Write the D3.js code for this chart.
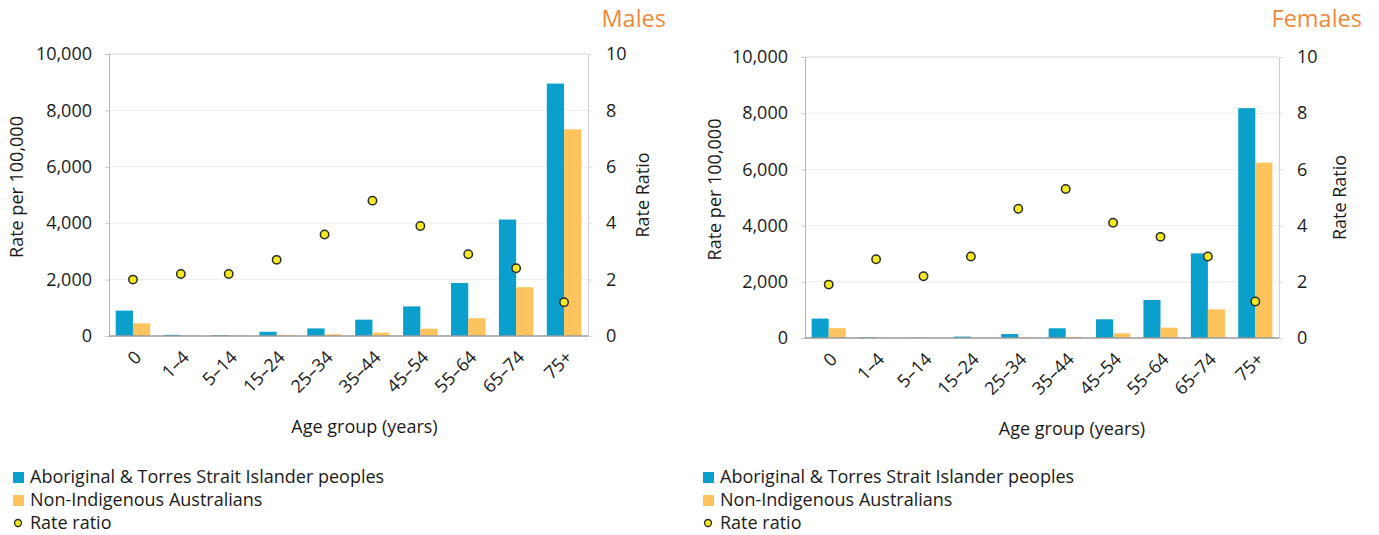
<!DOCTYPE html>
<html>
<head>
<meta charset="utf-8">
<script src="https://cdn.jsdelivr.net/npm/d3@7"></script>
<style>
  body { margin: 0; background: #fff; }
  svg text { font-family: "Open Sans", sans-serif; fill: #1a1a1a; }
</style>
</head>
<body>
<div id="chart"></div>
<script>
// Age groups along the x axis
var ageGroups = ["0", "1–4", "5–14", "15–24", "25–34", "35–44", "45–54", "55–64", "65–74", "75+"];

// Males: rate per 100,000 and rate ratio
var malesIndigenous    = [900, 40, 25, 150, 270, 580, 1050, 1880, 4130, 8950];
var malesNonIndigenous = [450, 15, 10, 40, 60, 120, 260, 630, 1730, 7330];
var malesRatio         = [2.0, 2.2, 2.2, 2.7, 3.6, 4.8, 3.9, 2.9, 2.4, 1.2];

// Females: rate per 100,000 and rate ratio
var femalesIndigenous    = [690, 25, 10, 50, 140, 345, 665, 1355, 3010, 8180];
var femalesNonIndigenous = [350, 10, 5, 10, 25, 40, 170, 370, 1020, 6240];
var femalesRatio         = [1.9, 2.8, 2.2, 2.9, 4.6, 5.3, 4.1, 3.6, 2.9, 1.3];

// Axis ticks
var rateTicks = [0, 2000, 4000, 6000, 8000, 10000];
var ratioTicks = [0, 2, 4, 6, 8, 10];

var seriesNames = ["Aboriginal & Torres Strait Islander peoples", "Non-Indigenous Australians", "Rate ratio"];

var blue = "#0a9fcc";
var orange = "#fec35d";
var dotFill = "#f2ea22";

var svg = d3.select("#chart")
    .append("svg")
    .attr("width", 1379)
    .attr("height", 535);

function drawPanel(opts) {
    var plotW = opts.width;
    var plotH = opts.height;

    var g = svg.append("g")
        .attr("transform", `translate(${opts.left}, ${opts.top})`);

    // scales
    var x0 = d3.scaleBand()
        .domain(ageGroups)
        .range([0, plotW])
        .paddingInner(0.28)
        .paddingOuter(0.14);

    var x1 = d3.scaleBand()
        .domain(["ind", "non"])
        .range([0, x0.bandwidth()]);

    var yRate = d3.scaleLinear().domain([0, 10000]).range([plotH, 0]);
    var yRatio = d3.scaleLinear().domain([0, 10]).range([plotH, 0]);

    // gridlines
    g.append("g").selectAll("line")
        .data(rateTicks.filter(d => d > 0 && d < 10000))
        .enter()
        .append("line")
        .attr("x1", 0)
        .attr("x2", plotW)
        .attr("y1", d => yRate(d))
        .attr("y2", d => yRate(d))
        .attr("stroke", "#ececec");

    // top border
    g.append("line")
        .attr("x1", 0).attr("x2", plotW)
        .attr("y1", yRate(10000)).attr("y2", yRate(10000))
        .attr("stroke", "#d4d4d4");

    // bars
    var rows = ageGroups.map(function(a, i) {
        return {age: a, ind: opts.ind[i], non: opts.non[i], ratio: opts.ratio[i]};
    });

    var groups = g.selectAll("g.cat")
        .data(rows)
        .enter()
        .append("g")
        .attr("class", "cat")
        .attr("transform", d => `translate(${x0(d.age)}, 0)`);

    groups.append("rect")
        .attr("x", x1("ind"))
        .attr("width", x1.bandwidth())
        .attr("y", d => yRate(d.ind))
        .attr("height", d => plotH - yRate(d.ind))
        .attr("fill", blue);

    groups.append("rect")
        .attr("x", x1("non"))
        .attr("width", x1.bandwidth())
        .attr("y", d => yRate(d.non))
        .attr("height", d => plotH - yRate(d.non))
        .attr("fill", orange);

    // left axis
    var leftAxis = d3.axisLeft(yRate)
        .tickValues(rateTicks)
        .tickFormat(d3.format(","))
        .tickSize(4)
        .tickPadding(13);
    var la = g.append("g").call(leftAxis);
    la.select(".domain").attr("stroke", "#b5b5b5");
    la.selectAll(".tick line").attr("stroke", "#c8c8c8");
    la.selectAll("text").attr("font-size", "18px").attr("fill", "#1a1a1a");

    // right axis
    var rightAxis = d3.axisRight(yRatio)
        .tickValues(ratioTicks)
        .tickSize(4)
        .tickPadding(14);
    var ra = g.append("g")
        .attr("transform", `translate(${plotW}, 0)`)
        .call(rightAxis);
    ra.select(".domain").attr("stroke", "#cfcfcf");
    ra.selectAll(".tick line").attr("stroke", "#dcdcdc");
    ra.selectAll("text").attr("font-size", "18px").attr("fill", "#1a1a1a");

    // baseline
    g.append("line")
        .attr("x1", 0).attr("x2", plotW)
        .attr("y1", plotH).attr("y2", plotH)
        .attr("stroke", "#9a9a9a")
        .attr("stroke-width", 1.5);

    // rate ratio dots
    g.selectAll("circle.ratio")
        .data(rows)
        .enter()
        .append("circle")
        .attr("class", "ratio")
        .attr("cx", d => x0(d.age) + x0.bandwidth() / 2)
        .attr("cy", d => yRatio(d.ratio))
        .attr("r", 4.2)
        .attr("fill", dotFill)
        .attr("stroke", "#2a2a2a")
        .attr("stroke-width", 1.5);

    // x tick labels, rotated
    g.selectAll("text.age")
        .data(ageGroups)
        .enter()
        .append("text")
        .attr("class", "age")
        .attr("transform", d => `translate(${x0(d) + x0.bandwidth() / 2 + 5}, ${plotH + 18}) rotate(-45)`)
        .attr("text-anchor", "end")
        .attr("dy", "0.35em")
        .attr("font-size", "18px")
        .text(d => d);

    // axis titles
    g.append("text")
        .attr("x", plotW / 2 + opts.xLabelShift)
        .attr("y", plotH + 97)
        .attr("text-anchor", "middle")
        .attr("font-size", "18px")
        .text("Age group (years)");

    g.append("text")
        .attr("transform", "rotate(-90)")
        .attr("x", -(plotH / 2) + 8)
        .attr("y", opts.leftLabelX)
        .attr("text-anchor", "middle")
        .attr("dy", "0.35em")
        .attr("font-size", "18px")
        .text("Rate per 100,000");

    g.append("text")
        .attr("transform", "rotate(-90)")
        .attr("x", -(plotH / 2))
        .attr("y", plotW + opts.rightLabelX)
        .attr("text-anchor", "middle")
        .attr("dy", "0.35em")
        .attr("font-size", "18px")
        .text("Rate Ratio");

    // panel title
    svg.append("text")
        .attr("x", opts.titleX)
        .attr("y", 27)
        .attr("text-anchor", "end")
        .attr("font-size", "23.5px")
        .style("fill", "#ef8a3a")
        .text(opts.title);

    // legend
    var leg = svg.append("g")
        .attr("transform", `translate(${opts.legendX}, 477)`);
    var legItems = leg.selectAll("g")
        .data(seriesNames)
        .enter()
        .append("g")
        .attr("transform", (d, i) => `translate(0, ${i * 23})`);
    legItems.filter((d, i) => i < 2)
        .append("rect")
        .attr("x", 0)
        .attr("y", -5)
        .attr("width", 11)
        .attr("height", 11)
        .attr("fill", (d, i) => i === 0 ? blue : orange);
    legItems.filter((d, i) => i === 2)
        .append("circle")
        .attr("cx", 5)
        .attr("cy", 0)
        .attr("r", 3.5)
        .attr("fill", dotFill)
        .attr("stroke", "#2a2a2a")
        .attr("stroke-width", 1.3);
    legItems.append("text")
        .attr("x", 17)
        .attr("y", 0)
        .attr("dy", "0.35em")
        .attr("font-size", "18px")
        .text(d => d);
}

drawPanel({
    left: 109, top: 54, width: 479, height: 282,
    ind: malesIndigenous, non: malesNonIndigenous, ratio: malesRatio,
    title: "Males", titleX: 666, legendX: 13,
    leftLabelX: -92, rightLabelX: 55, xLabelShift: 16
});

drawPanel({
    left: 805, top: 57, width: 474, height: 281,
    ind: femalesIndigenous, non: femalesNonIndigenous, ratio: femalesRatio,
    title: "Females", titleX: 1362, legendX: 703,
    leftLabelX: -90, rightLabelX: 61, xLabelShift: 30
});
</script>
</body>
</html>
